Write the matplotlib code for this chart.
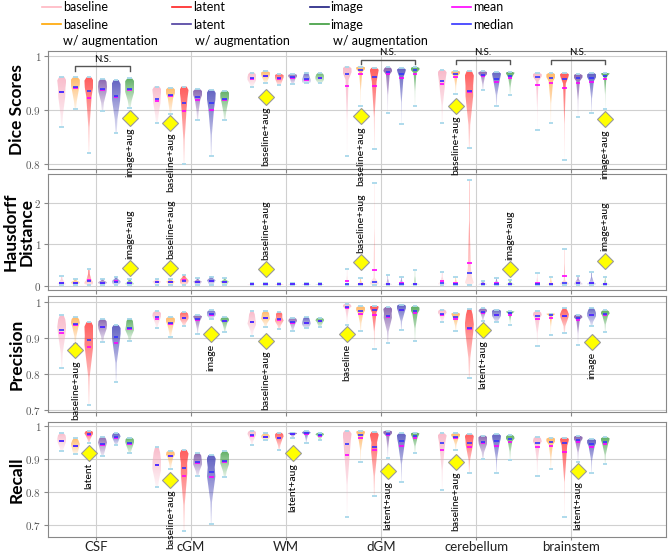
import numpy as np
import matplotlib.pyplot as plt
from matplotlib import cbook
from matplotlib.lines import Line2D
from matplotlib.colors import to_rgb

plt.rcParams['font.family'] = ['Lato', 'DejaVu Sans']
plt.rcParams['mathtext.fontset'] = 'cm'

structures = ['CSF', 'cGM', 'WM', 'dGM', 'cerebellum', 'brainstem']
methods = ['baseline', 'baseline+aug', 'latent', 'latent+aug', 'image', 'image+aug']
fill_colors = ['#f7a8bc', '#ffa640', '#ff3030', '#6a3d9a', '#3535b0', '#33993a']
line_colors = ['#ffb6c1', '#ffa500', '#ff2020', '#4b3c9e', '#1c1c80', '#3c9c3c']

# rows = methods, cols = structures ; each violin = [min, q1, median, q3, max]
dice_lo = [[0.868, 0.876, 0.943, 0.814, 0.876, 0.863],
           [0.901, 0.892, 0.949, 0.906, 0.930, 0.875],
           [0.819, 0.799, 0.945, 0.827, 0.828, 0.807],
           [0.898, 0.881, 0.947, 0.894, 0.937, 0.887],
           [0.856, 0.814, 0.949, 0.873, 0.906, 0.894],
           [0.904, 0.881, 0.949, 0.906, 0.927, 0.901]]
dice_q1 = [[0.915, 0.905, 0.953, 0.945, 0.940, 0.945],
           [0.930, 0.915, 0.958, 0.965, 0.958, 0.948],
           [0.915, 0.890, 0.953, 0.945, 0.915, 0.940],
           [0.928, 0.912, 0.955, 0.960, 0.958, 0.948],
           [0.908, 0.893, 0.953, 0.955, 0.948, 0.948],
           [0.928, 0.908, 0.955, 0.963, 0.955, 0.955]]
dice_med = [[0.932, 0.919, 0.958, 0.966, 0.954, 0.960],
            [0.942, 0.927, 0.963, 0.974, 0.966, 0.958],
            [0.935, 0.913, 0.958, 0.960, 0.935, 0.957],
            [0.938, 0.924, 0.960, 0.970, 0.965, 0.958],
            [0.925, 0.912, 0.957, 0.966, 0.957, 0.958],
            [0.938, 0.919, 0.959, 0.973, 0.963, 0.963]]
dice_q3 = [[0.948, 0.932, 0.963, 0.973, 0.965, 0.964],
           [0.951, 0.934, 0.967, 0.977, 0.969, 0.963],
           [0.948, 0.930, 0.962, 0.970, 0.955, 0.963],
           [0.947, 0.931, 0.963, 0.974, 0.968, 0.962],
           [0.940, 0.925, 0.962, 0.972, 0.964, 0.963],
           [0.948, 0.927, 0.963, 0.976, 0.967, 0.966]]
dice_hi = [[0.961, 0.943, 0.969, 0.980, 0.974, 0.968],
           [0.960, 0.941, 0.971, 0.980, 0.972, 0.968],
           [0.960, 0.943, 0.966, 0.978, 0.972, 0.968],
           [0.957, 0.938, 0.966, 0.979, 0.971, 0.966],
           [0.955, 0.937, 0.969, 0.977, 0.970, 0.968],
           [0.958, 0.935, 0.968, 0.979, 0.970, 0.968]]
dice_mean = [[0.932, 0.916, 0.957, 0.944, 0.947, 0.946],
             [0.940, 0.925, 0.962, 0.966, 0.961, 0.950],
             [0.921, 0.898, 0.957, 0.944, 0.932, 0.940],
             [0.937, 0.918, 0.958, 0.966, 0.962, 0.949],
             [0.924, 0.899, 0.956, 0.958, 0.952, 0.952],
             [0.937, 0.918, 0.958, 0.966, 0.958, 0.957]]
dice_best = [5, 1, 1, 1, 1, 5]
dice_best_y = [0.885, 0.876, 0.924, 0.888, 0.907, 0.882]
dice_ns = [0, 3, 4, 5]
dice_ns_y = [0.981, 0.993, 0.993, 0.993]

hd_lo = [[0.02] * 6 for _ in range(6)]
hd_q1 = [[0.04, 0.05, 0.025, 0.03, 0.04, 0.03],
         [0.05, 0.05, 0.025, 0.03, 0.03, 0.03],
         [0.06, 0.07, 0.025, 0.05, 0.12, 0.04],
         [0.05, 0.05, 0.025, 0.03, 0.03, 0.04],
         [0.06, 0.07, 0.025, 0.03, 0.03, 0.04],
         [0.04, 0.05, 0.025, 0.03, 0.03, 0.03]]
hd_med = [[0.06, 0.08, 0.03, 0.05, 0.06, 0.05],
          [0.07, 0.08, 0.03, 0.04, 0.05, 0.04],
          [0.10, 0.11, 0.03, 0.08, 0.30, 0.06],
          [0.07, 0.08, 0.03, 0.04, 0.04, 0.06],
          [0.09, 0.11, 0.03, 0.05, 0.05, 0.06],
          [0.06, 0.08, 0.03, 0.04, 0.04, 0.04]]
hd_q3 = [[0.09, 0.10, 0.04, 0.10, 0.10, 0.09],
         [0.09, 0.10, 0.04, 0.07, 0.08, 0.07],
         [0.17, 0.15, 0.04, 0.30, 0.60, 0.20],
         [0.09, 0.10, 0.04, 0.07, 0.06, 0.09],
         [0.12, 0.14, 0.04, 0.08, 0.08, 0.10],
         [0.09, 0.10, 0.04, 0.08, 0.06, 0.07]]
hd_hi = [[0.23, 0.16, 0.06, 0.39, 0.32, 0.30],
         [0.16, 0.16, 0.06, 0.18, 0.22, 0.22],
         [0.39, 0.26, 0.06, 2.47, 2.55, 0.88],
         [0.16, 0.18, 0.06, 0.26, 0.12, 0.24],
         [0.22, 0.22, 0.06, 0.22, 0.19, 0.32],
         [0.16, 0.19, 0.06, 0.38, 0.14, 0.22]]
hd_mean = [[0.07, 0.08, 0.03, 0.10, 0.11, 0.07],
           [0.07, 0.08, 0.03, 0.05, 0.06, 0.05],
           [0.14, 0.14, 0.03, 0.38, 0.55, 0.23],
           [0.07, 0.09, 0.03, 0.05, 0.05, 0.07],
           [0.10, 0.12, 0.03, 0.06, 0.06, 0.07],
           [0.07, 0.09, 0.03, 0.05, 0.05, 0.05]]
hd_best = [5, 1, 1, 1, 5, 5]
hd_best_y = [0.42, 0.42, 0.39, 0.56, 0.39, 0.59]

prec_lo = [[0.817, 0.927, 0.906, 0.936, 0.945, 0.878],
           [0.885, 0.904, 0.931, 0.921, 0.919, 0.908],
           [0.714, 0.933, 0.924, 0.871, 0.789, 0.913],
           [0.889, 0.910, 0.919, 0.886, 0.947, 0.881],
           [0.778, 0.952, 0.929, 0.922, 0.944, 0.933],
           [0.892, 0.917, 0.931, 0.892, 0.936, 0.918]]
prec_q1 = [[0.900, 0.950, 0.935, 0.975, 0.960, 0.950],
           [0.925, 0.930, 0.950, 0.962, 0.950, 0.955],
           [0.870, 0.950, 0.945, 0.965, 0.900, 0.953],
           [0.920, 0.942, 0.937, 0.950, 0.966, 0.945],
           [0.885, 0.961, 0.937, 0.970, 0.958, 0.957],
           [0.918, 0.938, 0.941, 0.962, 0.962, 0.958]]
prec_med = [[0.922, 0.959, 0.945, 0.986, 0.968, 0.961],
            [0.938, 0.942, 0.957, 0.974, 0.959, 0.963],
            [0.894, 0.957, 0.952, 0.977, 0.927, 0.962],
            [0.931, 0.952, 0.945, 0.962, 0.973, 0.956],
            [0.904, 0.966, 0.943, 0.979, 0.965, 0.965],
            [0.928, 0.947, 0.947, 0.974, 0.969, 0.966]]
prec_q3 = [[0.940, 0.966, 0.958, 0.990, 0.973, 0.967],
           [0.947, 0.950, 0.965, 0.981, 0.965, 0.966],
           [0.920, 0.964, 0.962, 0.984, 0.950, 0.970],
           [0.941, 0.958, 0.950, 0.975, 0.977, 0.960],
           [0.920, 0.971, 0.950, 0.986, 0.972, 0.973],
           [0.940, 0.952, 0.951, 0.981, 0.972, 0.971]]
prec_hi = [[0.963, 0.974, 0.974, 0.995, 0.979, 0.974],
           [0.958, 0.958, 0.974, 0.988, 0.970, 0.968],
           [0.944, 0.972, 0.972, 0.990, 0.981, 0.982],
           [0.952, 0.963, 0.956, 0.986, 0.982, 0.965],
           [0.936, 0.977, 0.959, 0.993, 0.979, 0.984],
           [0.954, 0.958, 0.956, 0.988, 0.974, 0.977]]
prec_mean = [[0.913, 0.953, 0.945, 0.984, 0.965, 0.952],
             [0.936, 0.940, 0.955, 0.968, 0.953, 0.957],
             [0.876, 0.955, 0.950, 0.964, 0.926, 0.960],
             [0.930, 0.950, 0.943, 0.959, 0.970, 0.950],
             [0.886, 0.964, 0.942, 0.977, 0.963, 0.963],
             [0.926, 0.946, 0.946, 0.970, 0.965, 0.963]]
prec_best = [1, 4, 1, 0, 3, 4]
prec_best_y = [0.866, 0.910, 0.892, 0.912, 0.922, 0.890]

rec_lo = [[0.923, 0.815, 0.943, 0.724, 0.805, 0.849],
          [0.915, 0.869, 0.958, 0.890, 0.928, 0.870],
          [0.950, 0.681, 0.928, 0.787, 0.857, 0.724],
          [0.910, 0.849, 0.963, 0.903, 0.901, 0.892],
          [0.944, 0.704, 0.948, 0.829, 0.857, 0.857],
          [0.918, 0.845, 0.958, 0.918, 0.897, 0.885]]
rec_q1 = [[0.945, 0.860, 0.965, 0.920, 0.925, 0.935],
          [0.930, 0.898, 0.964, 0.962, 0.960, 0.935],
          [0.968, 0.840, 0.955, 0.910, 0.935, 0.935],
          [0.932, 0.878, 0.972, 0.962, 0.940, 0.948],
          [0.958, 0.835, 0.970, 0.940, 0.940, 0.933],
          [0.938, 0.880, 0.968, 0.960, 0.948, 0.940]]
rec_med = [[0.956, 0.882, 0.973, 0.946, 0.948, 0.950],
           [0.941, 0.910, 0.968, 0.973, 0.968, 0.951],
           [0.975, 0.872, 0.965, 0.936, 0.950, 0.948],
           [0.945, 0.890, 0.976, 0.976, 0.951, 0.958],
           [0.966, 0.860, 0.978, 0.955, 0.955, 0.945],
           [0.948, 0.894, 0.973, 0.969, 0.960, 0.951]]
rec_q3 = [[0.966, 0.905, 0.979, 0.968, 0.965, 0.958],
          [0.950, 0.917, 0.972, 0.980, 0.973, 0.958],
          [0.980, 0.905, 0.972, 0.965, 0.964, 0.957],
          [0.955, 0.903, 0.978, 0.981, 0.961, 0.964],
          [0.972, 0.890, 0.981, 0.967, 0.966, 0.953],
          [0.956, 0.908, 0.976, 0.975, 0.966, 0.959]]
rec_hi = [[0.978, 0.936, 0.986, 0.986, 0.978, 0.968],
          [0.963, 0.925, 0.978, 0.986, 0.978, 0.965],
          [0.986, 0.928, 0.980, 0.983, 0.976, 0.965],
          [0.968, 0.918, 0.980, 0.986, 0.971, 0.970],
          [0.980, 0.913, 0.985, 0.978, 0.976, 0.961],
          [0.965, 0.923, 0.980, 0.980, 0.973, 0.966]]
rec_mean = [[0.955, 0.882, 0.971, 0.913, 0.928, 0.938],
            [0.939, 0.908, 0.966, 0.964, 0.965, 0.941],
            [0.974, 0.850, 0.963, 0.928, 0.938, 0.921],
            [0.943, 0.887, 0.975, 0.973, 0.949, 0.951],
            [0.964, 0.845, 0.976, 0.940, 0.940, 0.938],
            [0.947, 0.892, 0.971, 0.964, 0.952, 0.946]]
rec_best = [2, 1, 3, 3, 1, 3]
rec_best_y = [0.918, 0.837, 0.918, 0.864, 0.892, 0.864]


def quantile_density(q, coords):
    # density implied by the five quantiles (25% of the mass between each pair),
    # eased off towards both ends so the bodies get rounded tips
    q = np.asarray(q)
    dens = 0.25 / np.diff(q)
    mids = (q[:-1] + q[1:]) / 2
    xs = np.concatenate([[q[0]], mids, [q[-1]]])
    ys = np.concatenate([[dens[0] * 0.5], dens, [dens[-1] * 0.55]])
    return np.interp(coords, xs, ys)


def draw_panel(ax, lo, q1, med, q3, hi, mean, best, best_y, label_above, ylim, yticks):
    ax.set_facecolor('none')
    for m in range(6):
        pos = np.array([7 * c + m - 2.5 for c in range(6)])
        data = [[lo[m][c], q1[m][c], med[m][c], q3[m][c], hi[m][c]] for c in range(6)]
        stats = cbook.violin_stats(data, quantile_density, points=150)
        parts = ax.violin(stats, positions=pos, widths=0.66, showmeans=False,
                          showextrema=False, showmedians=False)
        rgb = to_rgb(fill_colors[m])
        for body in parts['bodies']:
            path = body.get_paths()[0]
            bb = path.get_extents()
            grad = np.zeros((64, 1, 4))
            grad[..., :3] = rgb
            grad[:, 0, 3] = np.linspace(0.12, 0.78, 64)
            im = ax.imshow(grad, extent=[bb.x0, bb.x1, bb.y0, bb.y1], origin='lower',
                           aspect='auto', interpolation='bilinear', zorder=2)
            im.set_clip_path(path, ax.transData)
            body.set_visible(False)
        ax.hlines(lo[m], pos - 0.17, pos + 0.17, color='#a8d8ea', lw=1.3, zorder=3)
        ax.hlines(hi[m], pos - 0.17, pos + 0.17, color='#a8d8ea', lw=1.3, zorder=3)
        ax.hlines(mean[m], pos - 0.17, pos + 0.17, color='#ff00ff', lw=1.2, zorder=4)
        ax.hlines(med[m], pos - 0.17, pos + 0.17, color='#3333ff', lw=1.2, zorder=4)

    for c in range(6):
        x = 7 * c + best[c] - 2.5
        ax.plot(x, best_y[c], marker='D', ms=8, mfc='#ffff00', mec='#999999', mew=0.8, zorder=5)
        ax.annotate(methods[best[c]], (x, best_y[c]), xytext=(0, 7 if label_above else -7),
                    textcoords='offset points', rotation=90, ha='center',
                    va='bottom' if label_above else 'top', fontsize=7.5, zorder=6)

    ax.set_xlim(-3.5, 42)
    ax.set_ylim(*ylim)
    ax.set_yticks(yticks)
    ax.set_yticklabels(['$%g$' % t if t in (0, 1, 2) else '$%.1f$' % t for t in yticks],
                       fontsize=8)
    ax.set_xticks([7 * c for c in range(6)])
    ax.grid(True, color='#d0d0d0', lw=0.8, zorder=0)
    ax.set_axisbelow(True)
    for s in ax.spines.values():
        s.set_color('#888888')
    ax.tick_params(colors='#888888', length=3, pad=2, labelcolor='#555555')


fig = plt.figure(figsize=(6.69, 5.54), dpi=100)
ax_d = fig.add_axes([0.072, 0.695, 0.924, 0.213])
ax_h = fig.add_axes([0.072, 0.477, 0.924, 0.209])
ax_p = fig.add_axes([0.072, 0.256, 0.924, 0.210])
ax_r = fig.add_axes([0.072, 0.031, 0.924, 0.207])
ax_d.set_zorder(4)
ax_h.set_zorder(3)
ax_p.set_zorder(2)
ax_r.set_zorder(1)

draw_panel(ax_d, dice_lo, dice_q1, dice_med, dice_q3, dice_hi, dice_mean,
           dice_best, dice_best_y, False, (0.79, 1.009), [0.8, 0.9, 1.0])
draw_panel(ax_h, hd_lo, hd_q1, hd_med, hd_q3, hd_hi, hd_mean,
           hd_best, hd_best_y, True, (-0.1, 2.7), [0, 1, 2])
draw_panel(ax_p, prec_lo, prec_q1, prec_med, prec_q3, prec_hi, prec_mean,
           prec_best, prec_best_y, False, (0.695, 1.017), [0.7, 0.8, 0.9, 1.0])
draw_panel(ax_r, rec_lo, rec_q1, rec_med, rec_q3, rec_hi, rec_mean,
           rec_best, rec_best_y, False, (0.664, 1.012), [0.7, 0.8, 0.9, 1.0])

for ax in (ax_d, ax_h, ax_p):
    ax.set_xticklabels([])
ax_r.set_xticklabels(structures, fontsize=9.5, color='#222222')
ax_r.tick_params(axis='x', pad=0.5, length=2.5)

# N.S. brackets (baseline+aug vs image+aug)
for c, y in zip(dice_ns, dice_ns_y):
    x1, x2 = 7 * c - 1.5, 7 * c + 2.5
    ax_d.plot([x1, x1, x2, x2], [y - 0.009, y, y, y - 0.009], color='#555555', lw=1, clip_on=False, zorder=6)
    ax_d.text((x1 + x2) / 2, y + 0.004, 'N.S.', ha='center', va='bottom', fontsize=7, clip_on=False)

# panel titles
for ax, name, xc in [(ax_d, 'Dice Scores', 17), (ax_h, 'Hausdorff\nDistance', 19),
                     (ax_p, 'Precision', 17), (ax_r, 'Recall', 17)]:
    b = ax.get_position()
    fig.text(xc / 669, (b.y0 + b.y1) / 2, name, rotation=90, ha='center', va='center',
             fontsize=12.5, fontweight='bold', linespacing=1.0)

# legend, one column each
entries = [(['baseline', 'baseline'], [line_colors[0], line_colors[1]]),
           (['latent', 'latent'], [line_colors[2], line_colors[3]]),
           (['image', 'image'], [line_colors[4], line_colors[5]]),
           (['mean', 'median'], ['#ff00ff', '#3333ff'])]
col_x = [42, 172, 310, 452]
for (labels, cols), x in zip(entries, col_x):
    handles = [Line2D([], [], color=cc, lw=1.2) for cc in cols]
    fig.legend(handles, labels, loc='upper left', bbox_to_anchor=(x / 669, 1 - 1 / 554),
               frameon=False, fontsize=9, handlelength=1.5, handletextpad=0.15,
               borderpad=0.0, borderaxespad=0.0, labelspacing=0.45)
for x in (63, 195, 333):
    fig.text(x / 669, 1 - 41 / 554, 'w/ augmentation', ha='left', va='center', fontsize=9)

fig.savefig('out.png', dpi=100)
